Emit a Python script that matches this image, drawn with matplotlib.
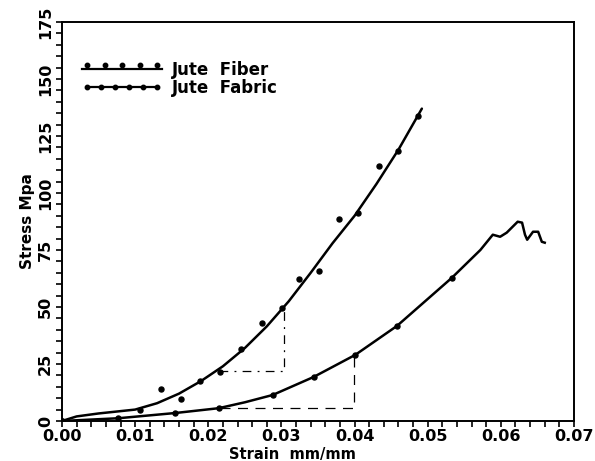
import matplotlib
matplotlib.use('Agg')
import matplotlib.pyplot as plt
from matplotlib.legend_handler import HandlerLine2D
from matplotlib.ticker import MultipleLocator, FormatStrFormatter

# Jute fiber: fitted curve and measured points
fiber_curve_x = [0, 0.002, 0.005, 0.010, 0.013, 0.016, 0.019, 0.022, 0.025, 0.028,
                 0.031, 0.034, 0.037, 0.040, 0.043, 0.046, 0.0492]
fiber_curve_y = [0, 2.0, 3.3, 5.0, 7.8, 12, 17.5, 24, 32, 41.5,
                 52.5, 65, 78, 90, 104, 119, 137]
fiber_pts_x = [0, 0.0106, 0.0135, 0.0163, 0.0189, 0.0216, 0.0245, 0.0273, 0.0301,
               0.0324, 0.0352, 0.0379, 0.0405, 0.0433, 0.0460, 0.0487]
fiber_pts_y = [0, 4.8, 14, 9.7, 17.6, 21.5, 31.6, 43, 49.7,
               62.4, 65.9, 88.5, 91.4, 112, 118.6, 133.6]

# Jute fabric: stress-strain trace and marked points
fabric_x = [0, 0.0077, 0.0155, 0.0214, 0.025, 0.0288, 0.0344, 0.0401, 0.0458, 0.0533,
            0.0572, 0.0589, 0.0599, 0.0608, 0.0623, 0.0629, 0.0633, 0.0636, 0.0644,
            0.0651, 0.0656, 0.0660]
fabric_y = [0, 1.2, 3.5, 5.6, 8.2, 11.4, 19.3, 29, 41.7, 62.8,
            75, 81.7, 80.8, 82.6, 87.4, 87, 81.7, 79.5, 83,
            83, 78.6, 78.2]
fabric_pts_x = [0, 0.0077, 0.0155, 0.0214, 0.0288, 0.0344, 0.0401, 0.0458, 0.0533]
fabric_pts_y = [0, 1.2, 3.5, 5.6, 11.4, 19.3, 29, 41.7, 62.8]

# dashed construction lines (secant modulus)
guide_fiber_x = [0.0215, 0.0304, 0.0304]
guide_fiber_y = [21.8, 21.8, 49.7]
guide_fabric_x = [0.0216, 0.0399, 0.0399]
guide_fabric_y = [5.6, 5.6, 29]

yticks = [0, 25, 50, 75, 100, 125, 150, 175]

plt.rcParams['font.family'] = ['DejaVu Sans']

fig = plt.figure(figsize=(5.95, 4.61), dpi=100)
ax = fig.add_axes([0.1042, 0.0868, 0.8605, 0.8655])

ax.plot(fiber_curve_x, fiber_curve_y, color='black', lw=1.8, solid_capstyle='round')
ax.plot(fiber_pts_x, fiber_pts_y, ls='none', marker='o', ms=3.6, color='black')
ax.plot(fabric_x, fabric_y, color='black', lw=1.8, solid_joinstyle='round')
ax.plot(fabric_pts_x, fabric_pts_y, ls='none', marker='o', ms=3.6, color='black')

ax.plot(guide_fiber_x, guide_fiber_y, color='black', lw=0.9, ls=(0, (7, 5, 1.5, 5)))
ax.plot(guide_fabric_x, guide_fabric_y, color='black', lw=0.9, ls=(0, (8, 6)))

ax.set_xlim(0, 0.07)
ax.set_ylim(0, 175)
ax.xaxis.set_major_locator(MultipleLocator(0.01))
ax.xaxis.set_minor_locator(MultipleLocator(0.002))
ax.xaxis.set_major_formatter(FormatStrFormatter('%.2f'))
ax.set_yticks(yticks)
ax.yaxis.set_minor_locator(MultipleLocator(5))
ax.set_yticklabels([str(v) for v in yticks], rotation=90, va='center')

ax.tick_params(which='both', direction='out', width=1.2, labelsize=11.5)
ax.tick_params(which='major', length=4.5)
ax.tick_params(which='minor', length=4)
ax.tick_params(axis='x', pad=1)
ax.tick_params(axis='y', pad=2)
for lab in ax.get_xticklabels() + ax.get_yticklabels():
    lab.set_fontweight('bold')
for sp in ax.spines.values():
    sp.set_linewidth(1.4)

ax.set_xlabel('Strain  mm/mm', fontsize=10.5, fontweight='bold', labelpad=0)
ax.xaxis.set_label_coords(0.45, -0.066)
ax.set_ylabel('Stress Mpa', fontsize=11, fontweight='bold', labelpad=2)


class RaisedDots(HandlerLine2D):
    def create_artists(self, legend, orig_handle, xdescent, ydescent,
                       width, height, fontsize, trans):
        return super().create_artists(legend, orig_handle, xdescent, ydescent - 6,
                                      width, height, fontsize, trans)


fiber_dots, = ax.plot([], [], ls='none', marker='o', ms=3.2, color='black')
fiber_line, = ax.plot([], [], color='black', lw=1.6)
fabric_handle, = ax.plot([], [], color='black', lw=1.6, marker='o', ms=3.2)
ax.legend([(fiber_dots, fiber_line), fabric_handle], ['Jute  Fiber', 'Jute  Fabric'],
          handler_map={fiber_dots: RaisedDots(numpoints=5),
                       fabric_handle: HandlerLine2D(numpoints=6)},
          loc='upper left', bbox_to_anchor=(0.01, 0.94), frameon=False,
          handlelength=4.8, handletextpad=0.6, labelspacing=0.0,
          prop={'size': 12, 'weight': 'bold'})

fig.savefig('out.png', dpi=100)
